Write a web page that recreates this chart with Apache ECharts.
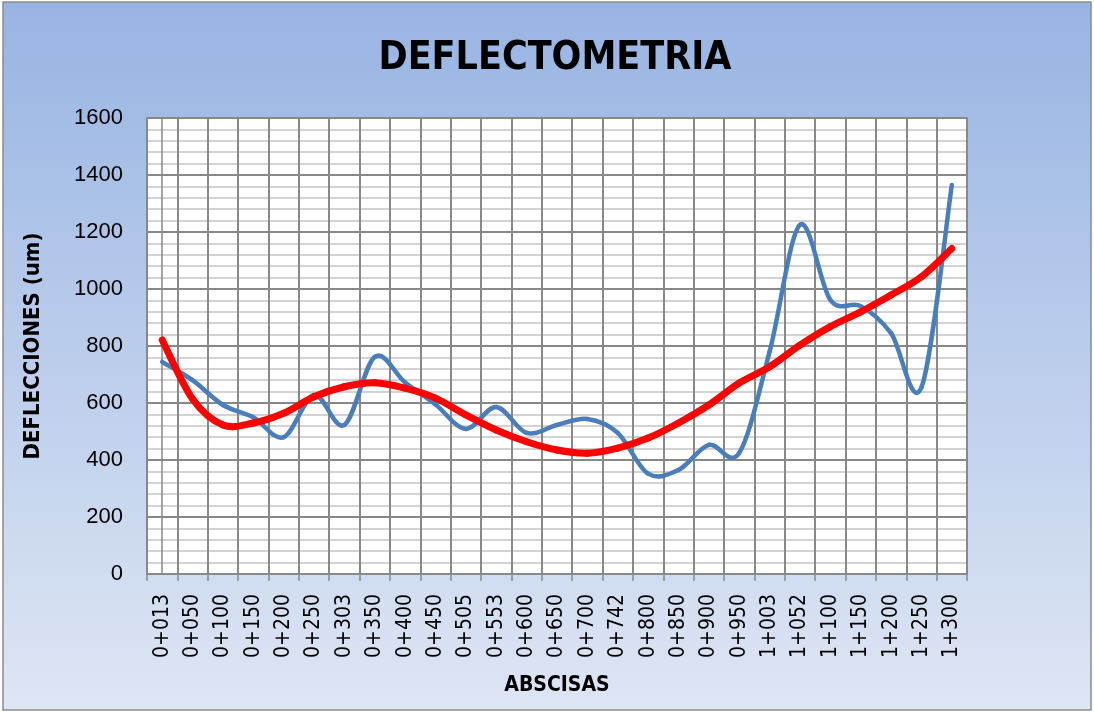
<!DOCTYPE html>
<html>
<head>
<meta charset="utf-8">
<title>DEFLECTOMETRIA</title>
<script src="https://cdn.jsdelivr.net/npm/echarts@6/dist/echarts.min.js"></script>
<style>
  html, body { margin: 0; padding: 0; background: #ffffff; }
  #chart { width: 1094px; height: 712px; }
</style>
</head>
<body>
<div id="chart"></div>
<script>
// Abscisas (stations) along the road
const abscisas = ['0+013', '0+050', '0+100', '0+150', '0+200', '0+250', '0+303', '0+350', '0+400',
  '0+450', '0+505', '0+553', '0+600', '0+650', '0+700', '0+742', '0+800', '0+850', '0+900',
  '0+950', '1+003', '1+052', '1+100', '1+150', '1+200', '1+250', '1+300'];

// Measured deflections (um) at each station
const deflexiones = [744, 680, 593, 550, 480, 628, 523, 762, 672, 595, 509, 586, 495, 523, 544, 495,
  352, 365, 453, 425, 780, 1225, 962, 940, 845, 655, 1365];

// Polynomial trend of the deflections (um) at each station
const tendencia = [821, 614, 523, 530, 564, 622, 657, 671, 652, 617, 558, 505, 464, 435, 424, 442,
  477, 530, 593, 670, 727, 803, 868, 920, 979, 1043, 1142];

// Value axis range and steps
const yMin = 0, yMax = 1600, yStep = 200, yMinorStep = 40;

const chart = echarts.init(document.getElementById('chart'), null, { renderer: 'canvas' });

const darkGrid = '#888888';
const lightGrid = '#c4c4c4';
const boldFont = 'DejaVu Sans Condensed, DejaVu Sans, sans-serif';

// Smoothed line drawn segment by segment (cardinal spline through the data points)
function smoothLine(values, color, width) {
  const n = values.length;
  return function (params, api) {
    const i = params.dataIndex;
    if (i >= n - 1) return null;
    const P = k => {
      const j = Math.max(0, Math.min(n - 1, k));
      return api.coord([j, values[j]]);
    };
    const p0 = P(i - 1), p1 = P(i), p2 = P(i + 1), p3 = P(i + 2);
    return {
      type: 'bezierCurve',
      shape: {
        x1: p1[0], y1: p1[1],
        x2: p2[0], y2: p2[1],
        cpx1: p1[0] + (p2[0] - p0[0]) / 6, cpy1: p1[1] + (p2[1] - p0[1]) / 6,
        cpx2: p2[0] - (p3[0] - p1[0]) / 6, cpy2: p2[1] - (p3[1] - p1[1]) / 6
      },
      style: { stroke: color, lineWidth: width, fill: 'none', lineCap: 'round', lineJoin: 'round' }
    };
  };
}

chart.setOption({
  animation: false,
  graphic: [{
    type: 'rect',
    silent: true,
    z: -10,
    shape: { x: 3, y: 2, width: 1088, height: 708 },
    style: {
      fill: new echarts.graphic.LinearGradient(0, 0, 0, 1, [
        { offset: 0, color: '#98b4e3' },
        { offset: 1, color: '#dee6f4' }
      ]),
      stroke: '#8c8c8c',
      lineWidth: 1.5
    }
  }],
  title: {
    text: 'DEFLECTOMETRIA',
    left: 550,
    textAlign: 'center',
    top: 34,
    textStyle: { fontFamily: boldFont, fontWeight: 'bold', fontSize: 39, color: '#000000' }
  },
  grid: {
    left: 147, right: 127, top: 118, bottom: 138,
    show: true,
    backgroundColor: '#ffffff',
    borderColor: darkGrid,
    borderWidth: 1.5
  },
  xAxis: [{
    type: 'category',
    data: abscisas,
    boundaryGap: true,
    z: 1,
    axisLine: { show: true, lineStyle: { color: darkGrid, width: 1.5 } },
    axisTick: { show: true, length: 7, lineStyle: { color: darkGrid, width: 1.5 } },
    axisLabel: {
      interval: 0, rotate: 90, margin: 20, color: '#000000',
      fontFamily: 'DejaVu Sans Condensed, DejaVu Sans, sans-serif', fontSize: 21
    },
    splitLine: { show: true, lineStyle: { color: darkGrid, width: 2 } },
    name: 'ABSCISAS',
    nameLocation: 'middle',
    nameGap: 101,
    nameTextStyle: { fontFamily: boldFont, fontWeight: 'bold', fontSize: 21, color: '#000000' }
  }, {
    // minor vertical lines through the middle of each station
    type: 'value',
    min: -0.5, max: abscisas.length - 0.5, interval: 1,
    position: 'bottom',
    z: 0,
    axisLine: { show: false },
    axisTick: { show: false },
    axisLabel: { show: false },
    splitLine: { show: true, lineStyle: { color: lightGrid, width: 1.5 } }
  }],
  yAxis: [{
    type: 'value',
    min: yMin, max: yMax, interval: yStep,
    z: 1,
    axisLine: { show: true, lineStyle: { color: darkGrid, width: 1.5 } },
    axisTick: { show: true, length: 6, lineStyle: { color: darkGrid, width: 1.5 } },
    axisLabel: {
      margin: 24, color: '#000000',
      fontFamily: 'Liberation Sans, Arial, sans-serif', fontSize: 22,
      formatter: v => String(v)
    },
    splitLine: { show: true, lineStyle: { color: darkGrid, width: 2 } },
    name: 'DEFLECCIONES (um)',
    nameLocation: 'middle',
    nameGap: 103,
    nameTextStyle: { fontFamily: boldFont, fontWeight: 'bold', fontSize: 22, color: '#000000' }
  }, {
    // minor horizontal lines
    type: 'value',
    min: yMin, max: yMax, interval: yMinorStep,
    position: 'left',
    z: 0,
    axisLine: { show: false },
    axisTick: { show: false },
    axisLabel: { show: false },
    splitLine: { show: true, lineStyle: { color: lightGrid, width: 1.5 } }
  }],
  series: [{
    name: 'Deflexiones',
    type: 'custom',
    xAxisIndex: 0,
    yAxisIndex: 0,
    data: deflexiones.map((v, i) => [i, v]),
    encode: { x: 0, y: 1 },
    z: 3,
    renderItem: smoothLine(deflexiones, '#4a7ebb', 4.5)
  }, {
    name: 'Tendencia',
    type: 'custom',
    xAxisIndex: 0,
    yAxisIndex: 0,
    data: tendencia.map((v, i) => [i, v]),
    encode: { x: 0, y: 1 },
    z: 4,
    renderItem: smoothLine(tendencia, '#ff0000', 7)
  }]
});
</script>
</body>
</html>
